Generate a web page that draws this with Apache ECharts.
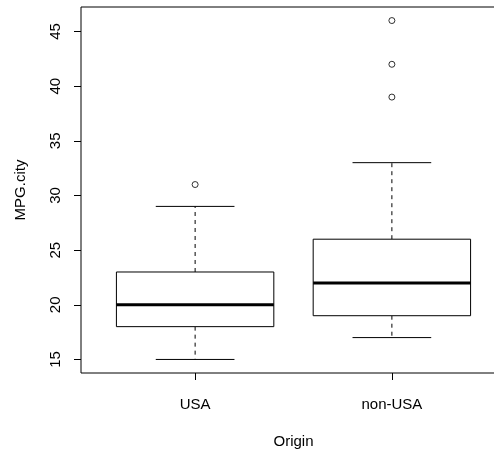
<!DOCTYPE html>
<html><head><meta charset="utf-8">
<script src="https://cdn.jsdelivr.net/npm/echarts@6/dist/echarts.min.js"></script>
<style>html,body{margin:0;padding:0;background:#fff}#c{width:494px;height:450px}</style>
</head><body><div id="c"></div>
<script>
const categories = ['USA', 'non-USA'];
const whiskerLow = [15, 17];
const q1 = [18, 19];
const median = [20, 22];
const q3 = [23, 26];
const whiskerHigh = [29, 33];
const outliers = [[31], [39, 42, 46]];
const yTicks = [15, 20, 25, 30, 35, 40, 45];
const xTicks = [1, 2];

const boxData = categories.map((c, i) => [i + 1, whiskerLow[i], q1[i], median[i], q3[i], whiskerHigh[i]]);
const outlierData = [];
outliers.forEach((arr, i) => arr.forEach(v => outlierData.push([i + 1, v])));

const FONT = 'Liberation Sans, Arial, sans-serif';

function renderBox(params, api) {
  const x = api.value(0);
  const lo = api.value(1), a = api.value(2), m = api.value(3), b = api.value(4), hi = api.value(5);
  const halfW = api.size([0.8, 0])[0] / 2;
  const capW = halfW / 2;
  const pLo = api.coord([x, lo]), pA = api.coord([x, a]), pM = api.coord([x, m]), pB = api.coord([x, b]), pHi = api.coord([x, hi]);
  const cx = pA[0];
  const line = (x1, y1, x2, y2, w, dash) => ({
    type: 'line', shape: { x1, y1, x2, y2 },
    style: { stroke: '#000', lineWidth: w, lineDash: dash || null }
  });
  return {
    type: 'group', children: [
      line(cx, pB[1], cx, pHi[1], 1, [4, 4]),
      line(cx, pA[1], cx, pLo[1], 1, [4, 4]),
      line(cx - capW, pHi[1], cx + capW, pHi[1], 1),
      line(cx - capW, pLo[1], cx + capW, pLo[1], 1),
      { type: 'rect', shape: { x: cx - halfW, y: pB[1], width: 2 * halfW, height: pA[1] - pB[1] },
        style: { fill: '#fff', stroke: '#000', lineWidth: 1 } },
      line(cx - halfW, pM[1], cx + halfW, pM[1], 3)
    ]
  };
}

const chart = echarts.init(document.getElementById('c'), null, { renderer: 'canvas' });
chart.setOption({
  animation: false,
  backgroundColor: '#fff',
  grid: { left: 81, top: 7, width: 425, bottom: 77, outerBoundsMode: 'none', containLabel: false,
    show: true, borderColor: '#000', borderWidth: 1, backgroundColor: 'transparent' },
  xAxis: {
    type: 'value', min: 0.42, max: 2.58,
    name: 'Origin', nameLocation: 'middle', nameGap: 61,
    nameTextStyle: { fontFamily: FONT, fontSize: 15, color: '#000' },
    axisLine: { show: false },
    splitLine: { show: false },
    axisTick: { show: true, length: 7, customValues: xTicks, lineStyle: { color: '#000' } },
    axisLabel: { customValues: xTicks, margin: 24, fontFamily: FONT, fontSize: 15, color: '#000',
      formatter: v => categories[Math.round(v) - 1] }
  },
  yAxis: {
    type: 'value', min: 13.76, max: 47.24,
    name: 'MPG.city', nameLocation: 'middle', nameGap: 53,
    nameTextStyle: { fontFamily: FONT, fontSize: 15, color: '#000' },
    axisLine: { show: false },
    splitLine: { show: false },
    axisTick: { show: true, length: 7, customValues: yTicks, lineStyle: { color: '#000' } },
    axisLabel: { customValues: yTicks, rotate: 90, margin: 18, fontFamily: FONT, fontSize: 15, color: '#000' }
  },
  series: [
    { type: 'custom', renderItem: renderBox, data: boxData, encode: { x: 0, y: [1, 2, 3, 4, 5] } },
    { type: 'scatter', data: outlierData, symbol: 'circle', symbolSize: 6,
      itemStyle: { color: 'transparent', borderColor: '#000', borderWidth: 1 } }
  ]
});
</script></body></html>
